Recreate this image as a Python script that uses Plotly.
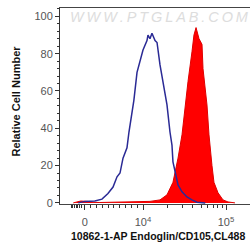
import plotly.graph_objects as go

# Display positions on the biexponential axis (decade units: 4 = 10^4, 5 = 10^5, 3.3 = 0)
blue_x = [3.22, 3.265, 3.30, 3.42, 3.506, 3.578, 3.639, 3.687, 3.723, 3.759, 3.807, 3.831,
          3.867, 3.89, 3.928, 3.952, 3.976, 4.0, 4.048, 4.06, 4.084, 4.108, 4.145, 4.169,
          4.205, 4.241, 4.289, 4.325, 4.349, 4.361, 4.398, 4.422, 4.47, 4.53, 4.59, 4.65, 4.75]
blue_y = [0, 0.5, 0.8, 1.0, 2, 5, 8.5, 14, 16, 24, 29.5, 38,
          47, 55, 70, 74, 78, 82, 87, 90, 88, 91, 87, 86,
          74, 65, 52.5, 38, 31, 22, 15, 9.6, 5.9, 3.2, 1.6, 0.4, 0]

red_x = [3.16, 3.2, 3.25, 3.33, 3.40, 3.48, 3.843, 4.084, 4.205, 4.289, 4.361, 4.422, 4.47,
         4.506, 4.542, 4.59, 4.614, 4.639, 4.651, 4.675, 4.711, 4.723, 4.771, 4.795, 4.831,
         4.855, 4.904, 4.964, 5.024, 5.108]
red_y = [0, 0.6, 1.0, 0.8, 0.3, 0.2, 0.4, 0.8, 1.6, 4.3, 11, 24, 36.5,
         51, 65, 81, 90, 94, 92, 88, 85, 72, 52.5, 36.5, 20,
         11, 5.4, 1.6, 0.5, 0]

x_tick_vals = [3.3, 4, 5]
x_tick_text = ["0", "10<sup>4</sup>", "10<sup>5</sup>"]
x_minor_vals = ([3.135, 3.155, 3.175, 3.195, 3.215, 3.235, 3.255]
                + [3.3 + 0.07 * k for k in range(1, 10)]
                + [4.30103, 4.47712, 4.60206, 4.69897, 4.77815, 4.84510, 4.90309, 4.95424])
y_tick_vals = [0, 20, 40, 60, 80, 100]

x_title = "10862-1-AP Endoglin/CD105,CL488"
y_title = "Relative Cell Number"
watermark = "\u2009".join("WWW.PTGLAB.COM")

FONT = "Liberation Sans, Arial, sans-serif"
W, H = 250, 248
L, R, T, B = 60, 0, 8, 44
pw, ph = W - L - R, H - T - B

fig = go.Figure()
fig.add_trace(go.Scatter(x=red_x, y=red_y, mode="lines", fill="tozeroy",
                         fillcolor="#ff0000", line=dict(color="#e00000", width=1),
                         showlegend=False, hoverinfo="skip"))
fig.add_trace(go.Scatter(x=blue_x, y=blue_y, mode="lines",
                         line=dict(color="#2a2a95", width=1.5),
                         showlegend=False, hoverinfo="skip"))

fig.update_layout(
    width=W, height=H,
    margin=dict(l=L, r=R, t=T, b=B, pad=0, autoexpand=False),
    paper_bgcolor="white", plot_bgcolor="white",
    font=dict(family=FONT, size=11, color="#555555"),
    xaxis=dict(range=[3.0, 3.0 + pw / 83.0], showgrid=False, zeroline=False,
               automargin=False,
               showline=True, linecolor="#444444", linewidth=1, mirror=True,
               tickmode="array", tickvals=x_tick_vals, ticktext=x_tick_text,
               ticks="outside", ticklen=5, tickcolor="#333333", tickwidth=1,
               ticklabelstandoff=3,
               tickfont=dict(size=11, color="#555555"),
               minor=dict(tickmode="array", tickvals=x_minor_vals, ticks="outside",
                          ticklen=3, tickcolor="#333333", tickwidth=1, showgrid=False)),
    yaxis=dict(range=[-0.6, 104.5], showgrid=False, zeroline=False,
               automargin=False,
               showline=True, linecolor="#333333", linewidth=1,
               tickmode="array", tickvals=y_tick_vals,
               ticks="outside", ticklen=4, tickcolor="#333333", tickwidth=1,
               tickfont=dict(size=11, color="#555555"),
               minor=dict(dtick=4, tick0=0, ticks="outside", ticklen=2,
                          tickcolor="#333333", showgrid=False)),
)

fig.add_annotation(text="<b>" + x_title + "</b>", xref="paper", yref="paper",
                   x=(69 - L) / pw, y=(T + ph - 236) / ph,
                   xanchor="left", yanchor="middle", showarrow=False,
                   font=dict(family=FONT, size=10.5, color="#111111"))
fig.add_annotation(text="<b>" + y_title + "</b>", xref="paper", yref="paper",
                   x=(15.5 - L) / pw, y=(T + ph - 101) / ph,
                   xanchor="center", yanchor="middle", textangle=-90, showarrow=False,
                   font=dict(family=FONT, size=11, color="#111111"))
fig.add_annotation(text=watermark, xref="paper", yref="paper",
                   x=(68 - L) / pw, y=(T + ph - 17) / ph,
                   xanchor="left", yanchor="middle", showarrow=False,
                   font=dict(family=FONT, size=14.5, color="#dddddd", style="italic"))

fig.write_html("out.html", config={"displayModeBar": False},
               post_script="document.body.style.margin='0';document.body.style.overflow='hidden';")
